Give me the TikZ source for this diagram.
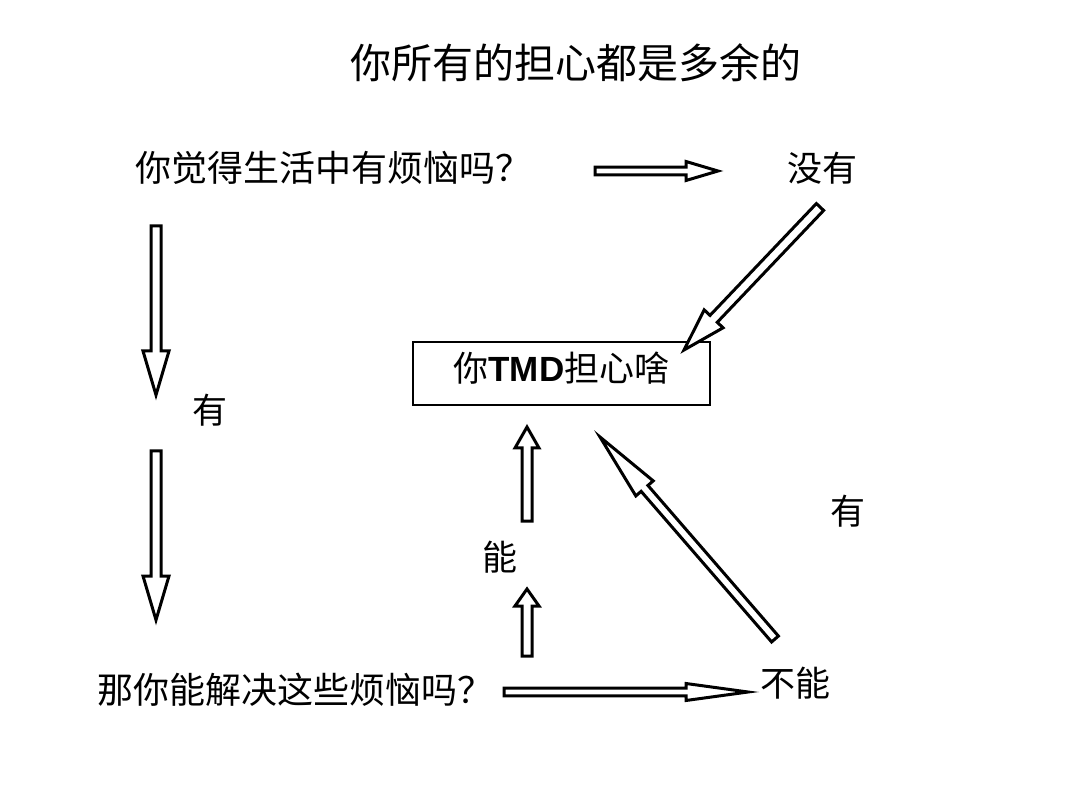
\documentclass[tikz,border=0pt]{standalone}
\usepackage{fontspec}
\newfontfamily\cjk{Noto Sans CJK SC}
\newfontfamily\lib{Liberation Sans}
\usetikzlibrary{calc}
\tikzset{
  barrow/.style={draw=black, line width=3pt, fill=white, line join=miter},
  txt/.style={font=\cjk\fontsize{35}{40}\selectfont, inner sep=0pt},
  qtxt/.style={font=\cjk\fontsize{36}{40}\selectfont, inner sep=0pt, anchor=west},
  ttl/.style={font=\cjk\fontsize{41}{45}\selectfont, inner sep=0pt},
}
% #1 tail, #2 tip, #3 shaft half width, #4 head half width, #5 head length
\newcommand\blkarrow[5]{%
  \coordinate (hb) at ($(#2)!#5!(#1)$);
  \draw[barrow] ($(#1)!#3!90:(#2)$) -- ($(hb)!#3!90:(#2)$) -- ($(hb)!#4!90:(#2)$)
    -- (#2) -- ($(hb)!#4!-90:(#2)$) -- ($(hb)!#3!-90:(#2)$) -- ($(#1)!#3!-90:(#2)$) -- cycle;
}
\begin{document}
\begin{tikzpicture}[x=1pt,y=-1pt]
\useasboundingbox[fill=white] (0,0) rectangle (1080,810);
\node[ttl] (title) at (576,63) {你所有的担心都是多余的};
\node[qtxt] (q1) at (135,168) {你觉得生活中有烦恼吗？};
\node[txt] (no) at (822,168) {没有};
\node[draw=black, line width=1.5pt, minimum width=297pt, minimum height=63pt, inner sep=0pt,
      text height=26pt, text depth=9pt,
      font=\cjk\fontsize{35}{40}\selectfont] (box) at (561.5,373.5) {你{\lib\bfseries TMD}担心啥};
\node[txt] (yes1) at (210,410) {有};
\node[txt] (can) at (500,557) {能};
\node[txt] (yes2) at (848,511) {有};
\node[txt] (cannot) at (795,683) {不能};
\node[qtxt] (q2) at (97,690) {那你能解决这些烦恼吗？};

% arrow end points
\coordinate (a1t) at (595,171); \coordinate (a1h) at (718,171);
\coordinate (a2t) at (820,207); \coordinate (a2h) at (684,350);
\coordinate (a3t) at (156,226); \coordinate (a3h) at (156,395);
\coordinate (a4t) at (156,451); \coordinate (a4h) at (156,620);
\coordinate (a5t) at (504,692); \coordinate (a5h) at (748,692);
\coordinate (a6t) at (527,521); \coordinate (a6h) at (527,427);
\coordinate (a7t) at (527,656); \coordinate (a7h) at (527,589);
\coordinate (a8t) at (775,639); \coordinate (a8h) at (600,437);

\blkarrow{a1t}{a1h}{3.8pt}{9.5pt}{32pt}
\blkarrow{a2t}{a2h}{5pt}{13pt}{43pt}
\blkarrow{a3t}{a3h}{5pt}{13pt}{44pt}
\blkarrow{a4t}{a4h}{5pt}{13pt}{44pt}
\blkarrow{a5t}{a5h}{3.8pt}{8.5pt}{62pt}
\blkarrow{a6t}{a6h}{5pt}{12pt}{21pt}
\blkarrow{a7t}{a7h}{5pt}{12pt}{17pt}
\blkarrow{a8t}{a8h}{4.5pt}{11.5pt}{68pt}
\end{tikzpicture}
\end{document}
